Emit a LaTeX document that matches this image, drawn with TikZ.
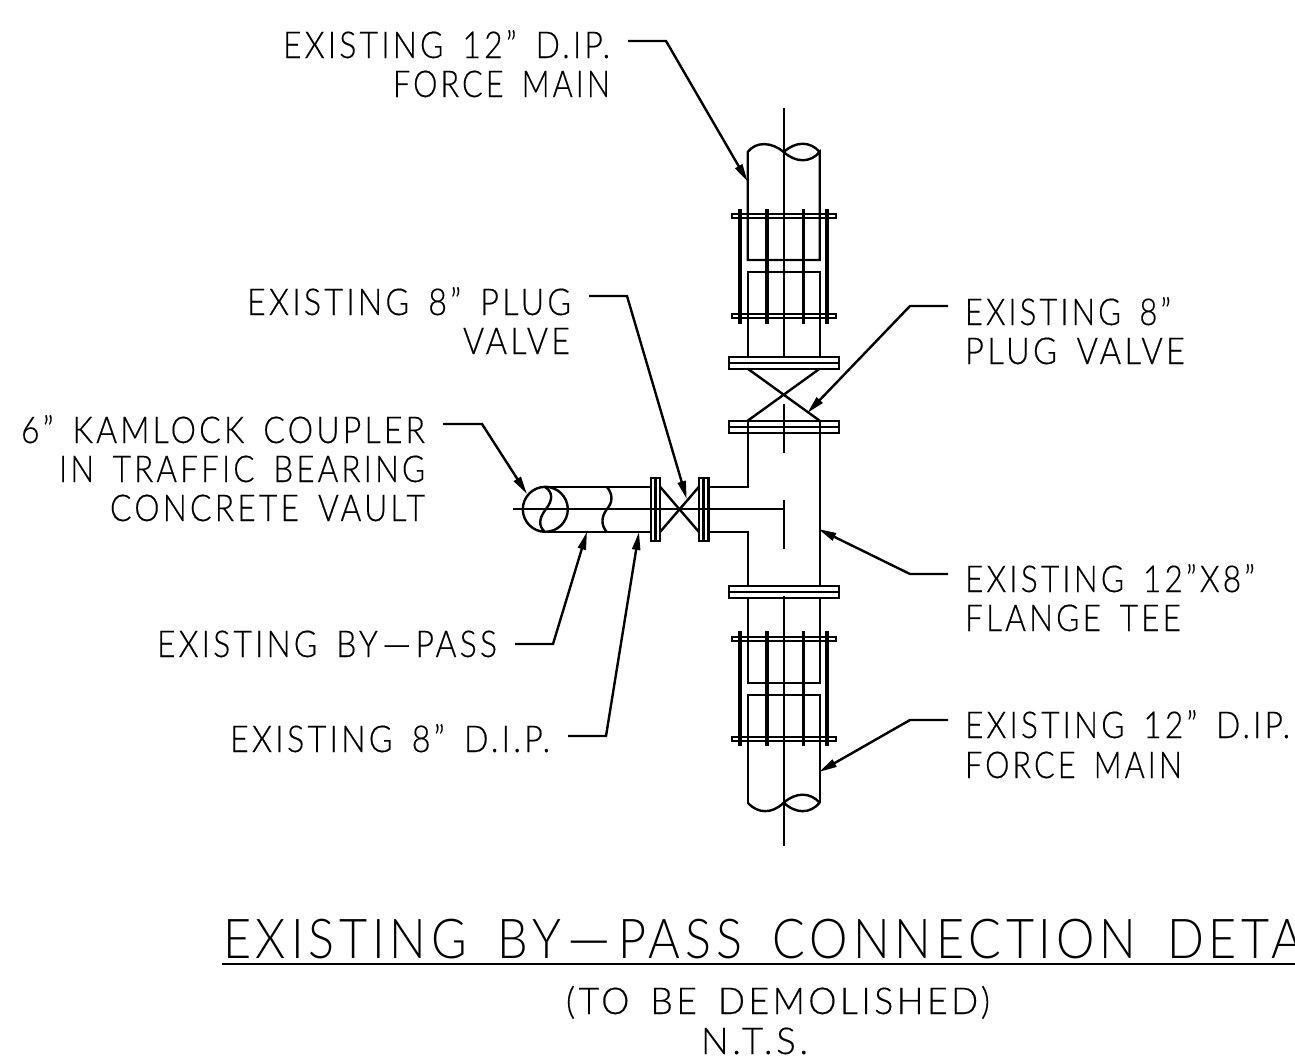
\documentclass[tikz,border=0pt]{standalone}
\usepackage{graphicx}
\usepackage{fontspec}
\newfontface\smallface[Ligatures=TeX,LetterSpace=10,WordSpace=1.6,FakeBold=0.4]{Lato Light}
\newfontface\bigface[Ligatures=TeX,LetterSpace=10,WordSpace=1.7]{Lato Light}
\setmainfont{Lato Light}
\usetikzlibrary{arrows.meta}
\newcommand{\smallfs}{\smallface\fontsize{37}{40}\selectfont}
\newcommand{\bigfs}{\bigface\fontsize{55}{60}\selectfont}
\newcommand{\hy}{\scalebox{3.2}[1]{-}}
\begin{document}
\begin{tikzpicture}[x=1pt,y=-1pt,
  pipe/.style={line width=2.4pt,line join=miter},
  axis/.style={line width=2pt},
  leader/.style={line width=2.4pt,-{Triangle[length=18pt,width=8pt]}},
  txt/.style={inner sep=0pt,outer sep=0pt,anchor=base west}]
\useasboundingbox (0,0) rectangle (1295,1063);
\newcommand{\lbl}[6][\smallfs]{\node[txt] (#2) at (#3,#4) {\resizebox{#5pt}{\height}{#1\relax #6}};}
% labels
\lbl{a}{283}{58}{327}{EXISTING 12" D.IP.}
\lbl{a2}{393}{97}{217}{FORCE MAIN}
\lbl{b}{247}{315}{324}{EXISTING 8" PLUG}
\lbl{b2}{463}{354}{107}{VALVE}
\lbl{c}{21}{443}{404}{6" KAMLOCK COUPLER}
\lbl{c2}{59}{482}{366}{IN TRAFFIC BEARING}
\lbl{c3}{110}{521}{315}{CONCRETE VAULT}
\lbl{d}{157}{657}{340}{EXISTING BY\hy PASS}
\lbl{e}{230}{752}{320}{EXISTING 8" D.I.P.}
\lbl{f}{965}{325}{206}{EXISTING 8"}
\lbl{f2}{965}{364}{220}{PLUG VALVE}
\lbl{g}{965}{592}{290}{EXISTING 12"X8"}
\lbl{g2}{965}{631}{216}{FLANGE TEE}
\lbl{h}{965}{738}{325}{EXISTING 12" D.IP.}
\lbl{h2}{965}{778}{217}{FORCE MAIN}
\lbl[\bigfs]{t}{223}{958}{1080}{EXISTING BY\hy PASS CONNECTION DETA}
\lbl{t2}{566}{1014}{424}{(TO BE DEMOLISHED)}
\lbl{t3}{701}{1054}{107}{N.T.S.}
\draw[line width=2.4pt] (222,964) -- (1295,964);
% center lines
\draw[axis] (783.7,108) -- (783.7,356.7);
\draw[axis] (783.7,404) -- (783.7,453);
\draw[axis] (783.7,500) -- (783.7,549.3);
\draw[axis] (783.7,596) -- (783.7,846);
\draw[axis] (513,509.3) -- (783.7,509.3);
% upper pipe
\draw[pipe] (747.7,260) -- (747.7,152) .. controls (756,141) and (772,142) .. (783.7,152)
  .. controls (796,163) and (810,163) .. (819.7,152) -- (819.7,260) -- cycle;
\draw[pipe] (783.7,152) .. controls (796,141) and (810,141) .. (819.7,152);
\draw[pipe] (747.7,356.7) -- (747.7,272) -- (819.7,272) -- (819.7,356.7);
% lower pipe
\draw[pipe] (747.7,598.3) -- (747.7,683) -- (819.7,683) -- (819.7,598.3);
\draw[pipe] (747.7,802.7) -- (747.7,695) -- (819.7,695) -- (819.7,802.7);
\draw[pipe] (747.7,802.7) .. controls (758,814) and (772,814) .. (783.7,802.7)
  .. controls (796,792) and (810,792) .. (819.7,802.7);
\draw[pipe] (783.7,802.7) .. controls (796,814) and (810,814) .. (819.7,802.7);
% flanges on main
\foreach \yt in {356.7,420.7,586} {
  \draw[pipe] (729,\yt) rectangle (838.7,\yt+12);
  \draw[pipe] (729,\yt+6) -- (838.7,\yt+6);
}
% top valve
\draw[pipe] (747.7,368.7) -- (819.7,420.7);
\draw[pipe] (819.7,368.7) -- (747.7,420.7);
% tee
\draw[pipe] (708.3,486.7) -- (747.7,486.7) -- (747.7,420.7);
\draw[pipe] (708.3,532) -- (747.7,532) -- (747.7,586);
\draw[pipe] (819.7,420.7) -- (819.7,586);
% bolted couplings
\foreach \yc in {216,316,639,739} {
  \draw[line width=1.8pt] (731.7,\yc-2.3) rectangle (836,\yc+2.3);
}
\foreach \xb/\lw in {740/4.4,766.7/3.6,803.3/3.6,827/3.6} {
  \draw[line width=\lw pt] (\xb,209.3) -- (\xb,324);
  \draw[line width=\lw pt] (\xb,631) -- (\xb,745.7);
}
% branch
\draw[pipe] (545.3,486.7) -- (650.7,486.7);
\draw[pipe] (545.3,532) -- (650.7,532);
\draw[pipe] (545.3,509.3) circle[radius=22.5];
\draw[pipe] (545,487) .. controls (553,492) and (553,500) .. (546,509)
  .. controls (539,518) and (538,526) .. (545,532);
\draw[pipe] (606.7,486.7) .. controls (613,494) and (613,502) .. (607,509)
  .. controls (601,517) and (601,525) .. (606.7,532);
\foreach \xf in {650.7,699} {
  \draw[pipe] (\xf,477.7) rectangle (\xf+9.3,541);
  \draw[pipe] (\xf+4.65,477.7) -- (\xf+4.65,541);
}
\draw[pipe] (660,486.7) -- (699,532);
\draw[pipe] (660,532) -- (699,486.7);
% leaders
\coordinate (as) at (628,41); \coordinate (ak) at (666,41); \coordinate (at) at (747.7,181.7);
\coordinate (bs) at (589,296); \coordinate (bk) at (627,296); \coordinate (bt) at (686.7,499);
\coordinate (cs) at (443,424); \coordinate (ck) at (482,424); \coordinate (ct) at (527,494);
\coordinate (ds) at (515,644); \coordinate (dk) at (553,644); \coordinate (dt) at (587,531.7);
\coordinate (es) at (568,736); \coordinate (ek) at (606,736); \coordinate (et) at (639,532);
\coordinate (fs) at (948,306); \coordinate (fk) at (910,306); \coordinate (ft) at (807.3,413);
\coordinate (gs) at (948,574); \coordinate (gk) at (910,574); \coordinate (gt) at (818.3,529);
\coordinate (hs) at (948,720); \coordinate (hk) at (910,720); \coordinate (ht) at (819,772);
\foreach \n in {a,b,c,d,e,f,g,h} {
  \draw[leader] (\n s) -- (\n k) -- (\n t);
}
\end{tikzpicture}
\end{document}
